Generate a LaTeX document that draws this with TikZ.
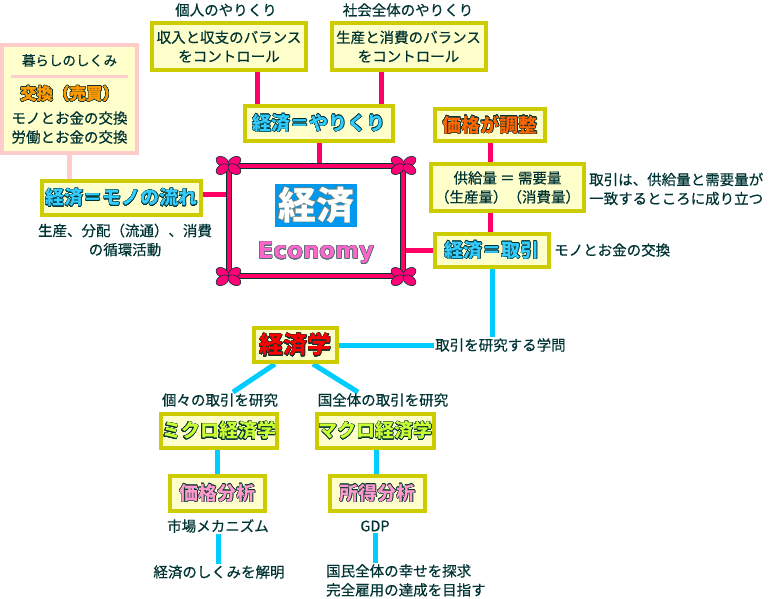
\documentclass[tikz,border=0pt]{standalone}
\usepackage{fontspec}
\setmainfont{Noto Sans CJK JP}
\newfontfamily\latinfont{DejaVu Sans}
\usepackage[copies]{contour}
\contourlength{0.5pt}
\contournumber{16}
\usetikzlibrary{calc,backgrounds}
\definecolor{boxline}{RGB}{204,204,0}
\definecolor{boxfill}{RGB}{255,255,204}
\definecolor{ink}{RGB}{0,51,51}
\definecolor{rose}{RGB}{255,0,102}
\definecolor{blush}{RGB}{255,204,204}
\definecolor{sky}{RGB}{0,204,255}
\definecolor{titlecyan}{RGB}{51,204,255}
\definecolor{titleorange}{RGB}{255,102,0}
\definecolor{titleamber}{RGB}{255,153,0}
\definecolor{titlered}{RGB}{255,0,0}
\definecolor{titlelime}{RGB}{204,255,51}
\definecolor{titlepink}{RGB}{255,153,204}
\definecolor{kanjiblue}{RGB}{0,153,238}
\definecolor{econpink}{RGB}{255,102,204}
\definecolor{petal}{RGB}{255,0,119}
\newcommand{\bodyfont}{\fontsize{14.5}{19}\selectfont\addfontfeature{FakeBold=0.5}}
\newcommand{\outlined}[1]{\contour{ink}{#1}}
\tikzset{ box/.style = { draw = boxline
                       , fill = boxfill
                       , line width   = 4pt
                       , inner sep    = 1pt
                       , align        = center
                       , text         = ink
                       , font         = \bodyfont
                       },
          card/.style = { box
                        , draw = blush
                        },
          title/.style = { box
                         , text = #1
                         , font = \fontsize{19}{22}\bfseries
                         },
          note/.style = { inner sep = 1pt
                        , align     = center
                        , text      = ink
                        , font      = \bodyfont
                        },
          ribbon/.style = { draw = ink
                          , double = rose
                          , double distance = 3.8pt
                          , line width      = 1.1pt
                          , minimum width   = 174pt
                          , minimum height  = 110pt
                          },
          rosewire/.style  = { draw = rose,  line width = 5pt },
          blushwire/.style = { draw = blush, line width = 5pt },
          skywire/.style   = { draw = sky,   line width = 5pt },
          petals/.style = { fill = petal, draw = ink, line width = 0.6pt },
          bow/.pic = { \foreach \a in {32,148,212,328}
                         \draw[petals, rotate=\a] (7,0) ellipse (7 and 4.6); }
        }

\begin{document}
\begin{tikzpicture}[x=1pt, y=-1pt]
    \useasboundingbox (0,0) rectangle (777,598);
    % top row
    \node[note] (kojinlabel)  at (226,10) {個人のやりくり};
    \node[note] (shakailabel) at (408,10) {社会全体のやりくり};
    \node[box, minimum width=154, minimum height=47] (kojin)  at (229,46.5)
        {収入と収支のバランス\\をコントロール};
    \node[box, minimum width=154, minimum height=47] (shakai) at (408.5,46.5)
        {生産と消費のバランス\\をコントロール};
    \node[title=titlecyan, minimum width=148, minimum height=35] (yarikuri) at (319,123.5)
        {\outlined{経済＝やりくり}};

    % centre
    \node[ribbon] (keizai) at (316,221) {};
    \node[fill=kanjiblue, text=white, minimum width=82, minimum height=43, inner sep=0pt,
          font=\fontsize{38}{40}\bfseries] (kanji) at (316,205.5)
        {\contour{ink!60}{経済}};
    \node[text=econpink, font=\latinfont\fontsize{23}{25}\bfseries] (economy) at (316,253)
        {\contour{ink!70}{Economy}};
    \pic at (keizai.north west) {bow};
    \pic at (keizai.north east) {bow};
    \pic at (keizai.south west) {bow};
    \pic at (keizai.south east) {bow};

    % left side
    \node[card, minimum width=135, minimum height=108] (kurashi) at (69.5,99)
        {{\fontsize{13.5}{19}\selectfont 暮らしのしくみ}\\[-7pt]
         {\color{blush}\rule{118pt}{3pt}}\\[3pt]
         {\color{titleamber}\fontsize{16.5}{19}\bfseries\outlined{交換（売買）}}\\[5pt]
         モノとお金の交換\\
         労働とお金の交換};
    \node[title=titlecyan, minimum width=159, minimum height=34] (nagare) at (121.5,198)
        {\outlined{経済＝モノの流れ}};
    \node[note] (junkan) at (125,240) {生産、分配（流通）、消費\\の循環活動};

    % right side
    \node[title=titleorange, minimum width=110, minimum height=32] (kakaku) at (490,125)
        {\outlined{価格が調整}};
    \node[box, minimum width=153, minimum height=47] (kyokyu) at (507.5,187.5)
        {供給量 ＝ 需要量\\（生産量）（消費量）};
    \node[note, anchor=west, align=left] (seiritsu) at (588,189)
        {取引は、供給量と需要量が\\一致するところに成り立つ};
    \node[title=titlecyan, minimum width=114, minimum height=33] (torihiki) at (492,250.5)
        {\outlined{経済＝取引}};
    \node[note, anchor=west] (koukan) at (553,250) {モノとお金の交換};

    % bottom
    \node[title=titlered, minimum width=83, minimum height=34,
          font=\fontsize{24}{26}\bfseries] (gaku) at (295.5,345) {\outlined{経済学}};
    \node[note, anchor=west] (kenkyu) at (434,345) {取引を研究する学問};
    \node[note] (kokoko)  at (220,400) {個々の取引を研究};
    \node[note] (kokuzen) at (383,400) {国全体の取引を研究};
    \node[title=titlelime, minimum width=116, minimum height=34] (micro) at (219,431)
        {\outlined{ミクロ経済学}};
    \node[title=titlelime, minimum width=117, minimum height=34] (macro) at (375.5,431)
        {\outlined{マクロ経済学}};
    \node[title=titlepink, minimum width=95, minimum height=35] (kakakubun) at (217.5,493.5)
        {\outlined{価格分析}};
    \node[title=titlepink, minimum width=95, minimum height=35] (shotoku) at (377.5,493.5)
        {\outlined{所得分析}};
    \node[note] (shijo)  at (218,526) {市場メカニズム};
    \node[note] (gdp)    at (375,526) {GDP};
    \node[note] (kaimei) at (219,572) {経済のしくみを解明};
    \node[note, anchor=north west, align=left] (kokumin) at (325,563)
        {国民全体の幸せを探求\\完全雇用の達成を目指す};

    % connectors
    \begin{scope}[on background layer]
    \draw[rosewire] (kojin.south -| 257,0) -- (yarikuri.north -| 257,0);
    \draw[rosewire] (shakai.south -| 381,0) -- (yarikuri.north -| 381,0);
    \draw[rosewire] (yarikuri.south) -- (yarikuri.south |- keizai.north);
    \draw[blushwire] (kurashi.south) -- (kurashi.south |- nagare.north);
    \draw[rosewire] ([yshift=4]nagare.east) -- ([yshift=4]nagare.east -| keizai.west);
    \draw[rosewire] (kakaku.south) -- (kakaku.south |- kyokyu.north);
    \draw[rosewire] (kyokyu.south -| kakaku.south) -- (torihiki.north -| kakaku.south);
    \draw[rosewire] (keizai.east |- torihiki.west) -- (torihiki.west);
    \draw[skywire] (torihiki.south) -- (torihiki.south |- kenkyu.north);
    \draw[skywire] (gaku.east) -- (kenkyu.west);
    \draw[skywire] (gaku.south -| 275,0) -- (kokoko.north -| 233,0);
    \draw[skywire] (gaku.south -| 313,0) -- (kokuzen.north -| 358,0);
    \draw[skywire] (micro.south -| kakakubun.north) -- (kakakubun.north);
    \draw[skywire] (macro.south -| 376,0) -- (shotoku.north -| 376,0);
    \draw[skywire] (shijo.south) -- (shijo.south |- kaimei.north);
    \draw[skywire] (gdp.south) -- (gdp.south |- kokumin.north);
    \end{scope}
\end{tikzpicture}
\end{document}
